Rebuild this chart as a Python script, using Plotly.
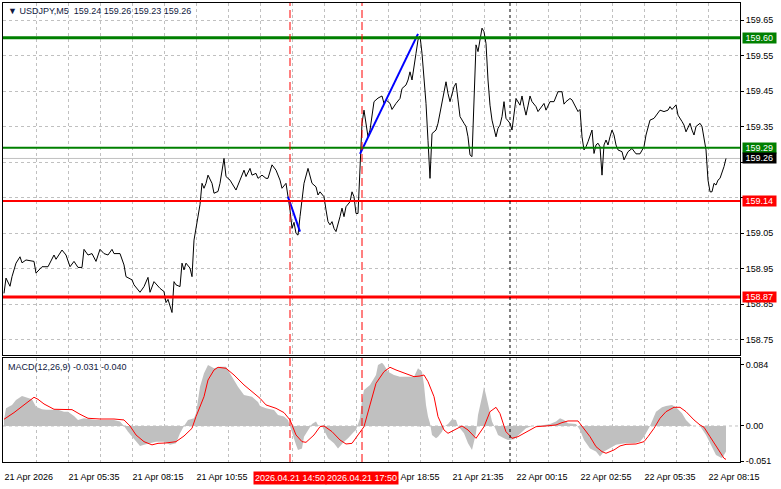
import plotly.graph_objects as go
from plotly.subplots import make_subplots

# ── data (x = bar index of the M5 chart, bar 0 = left edge) ──────────────────
PRICE_BAR = [0, 1, 3, 4, 6, 8, 9, 11, 15, 16, 19, 22, 25, 26, 29, 31, 33, 35, 37, 39,
             40, 42, 44, 46, 48, 50, 52, 54, 55, 58, 60, 61, 64, 65, 68, 70, 72, 73, 75, 78,
             80, 81, 82, 84, 85, 86, 88, 89, 90, 91, 93, 94, 95, 97, 98, 99, 100, 101, 102, 104,
             105, 107, 108, 110, 111, 113, 114, 116, 118, 120, 121, 123, 124, 126, 127, 129, 131, 132, 134, 136,
             138, 139, 141, 142, 143, 144, 145, 146, 147, 148, 149, 150, 152, 153, 154, 156, 157, 158, 160, 161,
             162, 163, 164, 165, 166, 168, 169, 170, 171, 173, 174, 175, 176, 177, 178, 179, 180, 181, 182, 183,
             184, 185, 187, 189, 190, 191, 193, 194, 196, 198, 199, 201, 202, 203, 204, 205, 206, 207, 208, 209,
             210, 211, 212, 213, 214, 216, 217, 218, 220, 221, 222, 223, 225, 226, 227, 228, 230, 231, 232, 233,
             234, 235, 236, 237, 238, 239, 240, 241, 242, 243, 244, 245, 246, 247, 248, 249, 250, 251, 253, 254,
             255, 256, 258, 259, 260, 261, 262, 263, 264, 266, 267, 269, 270, 271, 273, 275, 277, 279, 280, 281,
             283, 284, 286, 287, 288, 289, 290, 291, 292, 293, 294, 295, 296, 297, 298, 299, 300, 301, 302, 303,
             304, 305, 306, 307, 309, 310, 312, 314, 315, 316, 318, 320, 321, 323, 325, 328, 330, 332, 333, 334,
             336, 337, 339, 340, 341, 343, 344, 345, 346, 348, 349, 350, 351, 352, 353, 354, 355, 356, 357, 358,
             359, 360, 361]
PRICE = [158.880, 158.923, 158.900, 158.927, 158.965, 158.983, 158.966, 158.974, 158.970, 158.937,
         158.955, 158.955, 158.988, 158.976, 159.002, 158.988, 158.955, 158.970, 158.953, 158.953,
         159.004, 158.988, 158.992, 158.970, 159.004, 158.992, 158.988, 159.004, 158.992, 158.992,
         158.960, 158.927, 158.918, 158.904, 158.883, 158.899, 158.925, 158.883, 158.913, 158.894,
         158.885, 158.854, 158.863, 158.826, 158.913, 158.904, 158.899, 158.965, 158.946, 158.965,
         158.951, 158.927, 159.030, 159.096, 159.130, 159.190, 159.176, 159.190, 159.213, 159.190,
         159.162, 159.167, 159.190, 159.260, 159.209, 159.199, 159.190, 159.171, 159.199, 159.227,
         159.209, 159.232, 159.213, 159.218, 159.204, 159.213, 159.204, 159.204, 159.242, 159.227,
         159.199, 159.176, 159.190, 159.157, 159.115, 159.063, 159.080, 159.049, 159.044, 159.096,
         159.143, 159.190, 159.232, 159.213, 159.190, 159.180, 159.157, 159.166, 159.152, 159.115,
         159.082, 159.073, 159.082, 159.063, 159.054, 159.096, 159.120, 159.096, 159.124, 159.138,
         159.166, 159.152, 159.105, 159.105, 159.256, 159.359, 159.396, 159.350, 159.321, 159.340,
         159.378, 159.420, 159.430, 159.436, 159.415, 159.425, 159.415, 159.398, 159.415, 159.429,
         159.457, 159.467, 159.481, 159.504, 159.481, 159.514, 159.556, 159.594, 159.605, 159.556,
         159.490, 159.415, 159.310, 159.204, 159.330, 159.340, 159.359, 159.387, 159.443, 159.476,
         159.443, 159.420, 159.462, 159.472, 159.425, 159.378, 159.359, 159.350, 159.321, 159.270,
         159.265, 159.434, 159.580, 159.561, 159.594, 159.627, 159.617, 159.584, 159.481, 159.410,
         159.368, 159.340, 159.321, 159.345, 159.354, 159.378, 159.420, 159.373, 159.359, 159.340,
         159.387, 159.429, 159.410, 159.436, 159.406, 159.382, 159.408, 159.436, 159.420, 159.406,
         159.392, 159.406, 159.415, 159.396, 159.420, 159.420, 159.448, 159.448, 159.413, 159.420,
         159.429, 159.425, 159.401, 159.392, 159.398, 159.321, 159.284, 159.293, 159.307, 159.326,
         159.340, 159.274, 159.298, 159.303, 159.293, 159.213, 159.298, 159.312, 159.298, 159.321,
         159.340, 159.326, 159.298, 159.284, 159.279, 159.256, 159.279, 159.288, 159.279, 159.273,
         159.273, 159.293, 159.326, 159.368, 159.373, 159.396, 159.392, 159.396, 159.406, 159.398,
         159.411, 159.382, 159.364, 159.354, 159.335, 159.359, 159.340, 159.326, 159.350, 159.359,
         159.350, 159.312, 159.284, 159.199, 159.166, 159.166, 159.190, 159.185, 159.199, 159.204,
         159.218, 159.237, 159.260]

HIST_BAR = [0, 1, 4, 6, 9, 11, 14, 16, 19, 21, 25, 27, 30, 32, 35, 37, 40, 43, 46, 50,
            55, 58, 60, 62, 64, 66, 68, 70, 73, 76, 80, 83, 86, 88, 90, 92, 95, 96, 98, 100,
            102, 105, 108, 111, 114, 117, 120, 124, 127, 128, 131, 135, 137, 140, 142, 144, 146, 147, 149, 150,
            152, 154, 156, 157, 159, 160, 162, 165, 167, 170, 172, 175, 176, 178, 179, 180, 183, 186, 187, 189,
            190, 192, 195, 198, 201, 205, 207, 209, 210, 211, 212, 213, 214, 216, 217, 219, 220, 222, 224, 226,
            227, 230, 232, 234, 236, 237, 239, 240, 241, 243, 244, 246, 247, 250, 252, 255, 258, 261, 264, 266,
            270, 273, 276, 278, 280, 282, 286, 288, 290, 293, 296, 298, 300, 303, 306, 308, 311, 315, 318, 320,
            323, 325, 326, 329, 331, 334, 336, 339, 341, 344, 348, 351, 354, 356, 359, 361]
HIST = [0.0083, 0.0243, 0.029, 0.0358, 0.0413, 0.0395, 0.0367, 0.0266, 0.023, 0.0225,
        0.0225, 0.0225, 0.0197, 0.0197, 0.0138, 0.0083, 0.0106, 0.0096, 0.0083, 0.0083,
        0.0083, 0.006, 0.0, -0.0078, -0.0147, -0.0216, -0.0275, -0.026, -0.0239, -0.0216,
        -0.0216, -0.026, -0.0239, -0.0101, 0.0, 0.0083, 0.0106, 0.0174, 0.0541, 0.0725,
        0.084, 0.0794, 0.0817, 0.0817, 0.0679, 0.0541, 0.0427, 0.0404, 0.033, 0.0275,
        0.0243, 0.022, 0.0151, 0.0129, 0.0083, -0.0101, -0.026, -0.033, -0.031, -0.0147,
        -0.0055, 0.0028, 0.006, 0.001, 0.0, -0.0055, -0.017, -0.0239, -0.031, -0.0216,
        -0.017, -0.0078, -0.0055, 0.0106, 0.0358, 0.0496, 0.0565, 0.0702, 0.084, 0.0872,
        0.084, 0.0748, 0.0702, 0.0679, 0.0679, 0.0679, 0.0794, 0.0748, 0.0565, 0.029,
        0.0129, 0.0037, -0.0124, -0.017, -0.0147, -0.0078, -0.001, 0.0028, 0.0092, 0.0083,
        0.0, -0.0101, -0.0239, -0.033, -0.0101, 0.0151, 0.0404, 0.0541, 0.0427, 0.0151,
        0.006, -0.0055, -0.0124, -0.017, -0.0193, -0.0183, -0.0101, -0.0032, 0.0, 0.0,
        0.0014, 0.0028, 0.006, 0.0106, 0.0083, 0.0037, 0.0028, -0.0055, -0.0193, -0.031,
        -0.0353, -0.0422, -0.0353, -0.031, -0.026, -0.0248, -0.0239, -0.0239, -0.0216, -0.0147,
        0.0, 0.0129, 0.0197, 0.0257, 0.0275, 0.029, 0.0257, 0.0174, 0.0083, 0.0,
        0.0, -0.0124, -0.0285, -0.04, -0.0445, -0.035]

SIG_BAR = [0, 5, 10, 15, 17, 20, 25, 29, 34, 38, 42, 48, 55, 60, 63, 66, 70, 74, 77, 81,
           86, 90, 94, 96, 100, 102, 105, 107, 111, 115, 120, 125, 128, 131, 136, 140, 143, 146, 149, 151,
           155, 158, 160, 164, 168, 171, 174, 177, 180, 183, 186, 190, 193, 196, 201, 205, 208, 210, 212, 215,
           217, 220, 222, 226, 229, 232, 236, 240, 243, 246, 248, 250, 251, 253, 254, 257, 260, 263, 266, 271,
           276, 279, 282, 287, 290, 293, 296, 299, 301, 305, 308, 311, 316, 320, 322, 325, 328, 331, 335, 338,
           341, 345, 348, 350, 353, 356, 358, 360, 361]
SIG = [0.0092, 0.0184, 0.029, 0.0395, 0.0367, 0.0303, 0.023, 0.0225, 0.0225, 0.0161,
       0.0106, 0.0096, 0.0096, 0.0083, 0.0, -0.0124, -0.0216, -0.026, -0.0239, -0.0234,
       -0.0216, -0.0138, -0.0032, 0.0129, 0.0404, 0.0633, 0.0771, 0.0808, 0.0794, 0.0702,
       0.0565, 0.045, 0.0381, 0.029, 0.0243, 0.0184, 0.0083, -0.0124, -0.0216, -0.0225,
       -0.0124, -0.001, 0.0, -0.0078, -0.0193, -0.0248, -0.0239, -0.0124, -0.001, 0.029,
       0.0587, 0.0748, 0.0808, 0.0771, 0.0725, 0.0679, 0.0688, 0.0702, 0.061, 0.0404,
       0.0129, -0.0055, -0.0101, -0.0046, 0.0, -0.0055, -0.017, -0.001, 0.0197, 0.0257,
       0.017, 0.0, -0.008, -0.0135, -0.017, -0.0147, -0.0101, -0.0046, -0.001, 0.0,
       0.0014, 0.0046, 0.0069, 0.0069, -0.0032, -0.0147, -0.0285, -0.0353, -0.0376, -0.033,
       -0.0275, -0.0253, -0.0248, -0.0216, -0.0147, -0.0032, 0.0106, 0.0197, 0.0257, 0.0257,
       0.0197, 0.0083, 0.0014, -0.0018, -0.0147, -0.0275, -0.0376, -0.0445, -0.046]

# hand-drawn trend lines (blue)
TREND1_BAR, TREND1 = [142, 148], [159.152, 159.054]
TREND2_BAR, TREND2 = [178, 207], [159.273, 159.611]

# horizontal levels
LEVELS = [159.60, 159.29, 159.14, 158.87]
LEVEL_COLORS = ["#008000", "#008000", "#ff0000", "#ff0000"]
LEVEL_WIDTHS = [3, 2, 2, 3]
LAST_PRICE = 159.26

# vertical markers
VLINE_BARS = [143, 179]
VLINE_TEXT = ["2026.04.21 14:50", "2026.04.21 17:50"]
SESSION_BAR = 253

PRICE_TICKS = [158.75, 158.85, 158.95, 159.05, 159.15, 159.25, 159.35, 159.45, 159.55, 159.65]
PRICE_TICK_TEXT = ["158.75", "158.85", "158.95", "159.05", "", "", "159.35", "159.45", "159.55", "159.65"]
GRID_BARS = list(range(0, 369, 16))
TIME_TICK_TEXT = ["21 Apr 2026", "21 Apr 05:35", "21 Apr 08:15", "21 Apr 10:55", "21 Apr 13:35",
                  "21 Apr 16:15", "21 Apr 18:55", "21 Apr 21:35", "22 Apr 00:15", "22 Apr 02:55",
                  "22 Apr 05:35", "22 Apr 08:15"]
MACD_TICKS = [0.084, 0.0, -0.0485]
MACD_TICK_TEXT = ["0.084", "0.00", "-0.051"]

FONT = "Liberation Sans, Arial, sans-serif"
FS = 9
GRID = "#c0c0c0"

fig = make_subplots(rows=2, cols=1, shared_xaxes=True)

fig.add_trace(go.Scatter(x=PRICE_BAR, y=PRICE, mode="lines",
                         line=dict(color="black", width=1)), row=1, col=1)
for bx, by in [(TREND1_BAR, TREND1), (TREND2_BAR, TREND2)]:
    fig.add_trace(go.Scatter(x=bx, y=by, mode="lines",
                             line=dict(color="#0000ff", width=2)), row=1, col=1)

fig.add_trace(go.Scatter(x=HIST_BAR, y=HIST, mode="lines", fill="tozeroy",
                         fillcolor="#c0c0c0", line=dict(width=0, color="#c0c0c0")), row=2, col=1)
fig.add_trace(go.Scatter(x=SIG_BAR, y=SIG, mode="lines",
                         line=dict(color="#ff0000", width=1)), row=2, col=1)

# levels
fig.add_hline(y=LAST_PRICE, line_color="#c0c0c0", line_width=1, layer="below", row=1, col=1)
for lv, c, w in zip(LEVELS, LEVEL_COLORS, LEVEL_WIDTHS):
    fig.add_hline(y=lv, line_color=c, line_width=w, row=1, col=1)
fig.add_hline(y=0, line_color=GRID, line_width=1, line_dash="3px,3px", layer="below", row=2, col=1)

# vertical markers across both panes
for b in VLINE_BARS:
    fig.add_shape(type="line", xref="x", yref="paper", x0=b, x1=b, y0=0, y1=1,
                  line=dict(color="#ff0000", width=1, dash="8px,4px"))
fig.add_shape(type="line", xref="x", yref="paper", x0=SESSION_BAR, x1=SESSION_BAR, y0=0, y1=1,
              line=dict(color="black", width=1, dash="3px,3px"))

# right-axis level tags
for lv, c in zip(LEVELS, LEVEL_COLORS):
    fig.add_annotation(xref="paper", x=1, xanchor="left", xshift=2, yref="y", y=lv,
                       text=f"&nbsp;{lv:.2f}&nbsp;", showarrow=False, bgcolor=c, borderpad=0,
                       font=dict(color="white", size=FS, family=FONT))
fig.add_annotation(xref="paper", x=1, xanchor="left", xshift=2, yref="y", y=LAST_PRICE,
                   text=f"&nbsp;{LAST_PRICE:.2f}&nbsp;", showarrow=False, bgcolor="black", borderpad=0,
                   font=dict(color="white", size=FS, family=FONT))

# time tags for the vertical markers
for b, t in zip(VLINE_BARS, VLINE_TEXT):
    fig.add_annotation(xref="x2", x=b, xanchor="center", yref="paper", y=0, yanchor="top",
                       yshift=-9, text=t, showarrow=False, bgcolor="#ff0000", borderpad=1,
                       font=dict(color="white", size=FS, family=FONT))

# pane headers
fig.add_annotation(xref="paper", x=0, xanchor="left", xshift=3, yref="paper", y=1, yanchor="top",
                   yshift=-1, showarrow=False,
                   text="▼ USDJPY,M5&nbsp;&nbsp;159.24 159.26 159.23 159.26",
                   font=dict(color="#101840", size=FS, family=FONT))
fig.add_annotation(xref="x2 domain", x=0, xanchor="left", xshift=3, yref="y2 domain", y=1,
                   yanchor="top", yshift=-2, showarrow=False,
                   text="MACD(12,26,9) -0.031 -0.040",
                   font=dict(color="#101840", size=FS, family=FONT))

tick_text = []
for b in GRID_BARS:
    tick_text.append(TIME_TICK_TEXT[b // 32] if b % 32 == 0 else "")

axis_common = dict(showline=True, mirror=True, linecolor="black", linewidth=1,
                   zeroline=False, gridcolor=GRID, griddash="3px,3px", automargin=False)

fig.update_layout(
    width=781, height=489,
    margin=dict(l=3, r=41, t=3, b=27),
    paper_bgcolor="white", plot_bgcolor="white",
    showlegend=False,
    font=dict(family=FONT, size=FS, color="black"),
    xaxis=dict(range=[-0.5, 368], tickvals=GRID_BARS, showticklabels=False, showgrid=True,
               **axis_common),
    xaxis2=dict(range=[-0.5, 368], tickvals=GRID_BARS, ticktext=tick_text, showgrid=True,
                tickangle=0, ticklabelposition="outside right", ticklabeloverflow="allow",
                ticklabelstandoff=6,
                tickfont=dict(size=FS, family=FONT, color="black"), **axis_common),
    yaxis=dict(domain=[0.2331, 1], range=[158.7063, 159.6979], side="right",
               tickvals=PRICE_TICKS, ticktext=PRICE_TICK_TEXT, showgrid=True,
               ticks="outside", ticklen=3, tickcolor="black",
               tickfont=dict(size=FS, family=FONT, color="black"), **axis_common),
    yaxis2=dict(domain=[0, 0.2266], range=[-0.0496, 0.0936], side="right",
                tickvals=MACD_TICKS, ticktext=MACD_TICK_TEXT, showgrid=False,
                ticks="outside", ticklen=3, tickcolor="black",
                tickfont=dict(size=FS, family=FONT, color="black"), automargin=False,
                showline=True, mirror=True, linecolor="black", linewidth=1, zeroline=False),
)

fig.write_html("out.html", config={"displayModeBar": False},
               post_script="document.body.style.margin='0';")
